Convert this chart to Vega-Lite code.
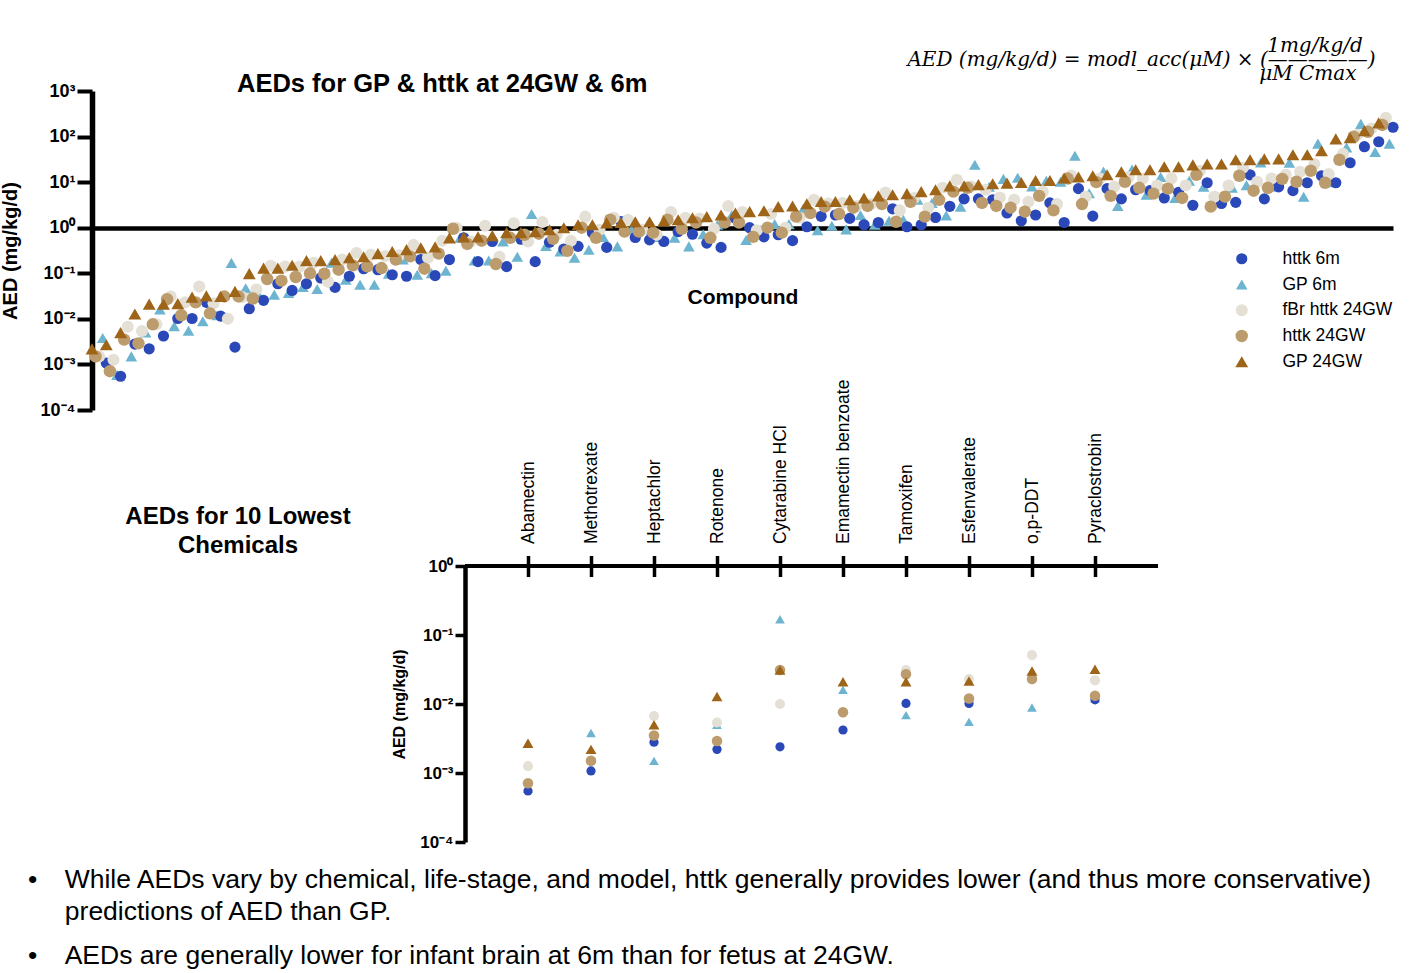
{
  "$schema": "https://vega.github.io/schema/vega-lite/v6.json",
  "autosize": {"type": "none"},
  "padding": {"left": 92, "top": 91, "right": 1332, "bottom": 882},
  "background": "white",
  "config": {
    "font": "Liberation Sans",
    "view": {"stroke": null},
    "axis": {"domainColor": "black", "tickColor": "black", "labelColor": "black", "titleColor": "black", "grid": false},
    "title": {"color": "black", "subtitleColor": "black"}
  },
  "datasets": {
    "aed": [
      {"c":0,"name":"Methotrexate","httk 6m":0.00107,"GP 6m":0.0038,"fBr httk 24GW":0.0015,"httk 24GW":0.0015,"GP 24GW":0.0022},
      {"c":1,"name":"Abamectin","httk 6m":0.00055,"GP 6m":0.00059,"fBr httk 24GW":0.00126,"httk 24GW":0.00071,"GP 24GW":0.0027},
      {"c":2,"name":"Heptachlor","httk 6m":0.0028,"GP 6m":0.0015,"fBr httk 24GW":0.0067,"httk 24GW":0.0035,"GP 24GW":0.005},
      {"c":3,"name":"Rotenone","httk 6m":0.0022,"GP 6m":0.005,"fBr httk 24GW":0.0054,"httk 24GW":0.0029,"GP 24GW":0.0128},
      {"c":4,"name":"Emamectin benzoate","httk 6m":0.0042,"GP 6m":0.016,"fBr httk 24GW":0.0076,"httk 24GW":0.0076,"GP 24GW":0.021},
      {"c":5,"name":"Tamoxifen","httk 6m":0.0102,"GP 6m":0.0069,"fBr httk 24GW":0.031,"httk 24GW":0.027,"GP 24GW":0.021},
      {"c":6,"name":"Esfenvalerate","httk 6m":0.0102,"GP 6m":0.0055,"fBr httk 24GW":0.023,"httk 24GW":0.012,"GP 24GW":0.0216},
      {"c":7,"name":"o,p-DDT","httk 6m":0.023,"GP 6m":0.0089,"fBr httk 24GW":0.051,"httk 24GW":0.023,"GP 24GW":0.03},
      {"c":8,"name":"Pyraclostrobin","httk 6m":0.0115,"GP 6m":0.012,"fBr httk 24GW":0.022,"httk 24GW":0.0132,"GP 24GW":0.032},
      {"c":9,"name":"Cytarabine HCl","httk 6m":0.0024,"GP 6m":0.169,"fBr httk 24GW":0.01,"httk 24GW":0.031,"GP 24GW":0.031},
      {"c":10,"httk 6m":0.0167,"GP 6m":0.047,"fBr httk 24GW":0.03,"httk 24GW":0.031,"GP 24GW":0.04},
      {"c":11,"httk 6m":0.0255,"GP 6m":0.03,"fBr httk 24GW":0.044,"httk 24GW":0.028,"GP 24GW":0.098},
      {"c":12,"httk 6m":0.059,"GP 6m":0.034,"fBr httk 24GW":0.147,"httk 24GW":0.075,"GP 24GW":0.13},
      {"c":13,"httk 6m":0.042,"GP 6m":0.037,"fBr httk 24GW":0.14,"httk 24GW":0.069,"GP 24GW":0.13},
      {"c":14,"httk 6m":0.059,"GP 6m":0.05,"fBr httk 24GW":0.14,"httk 24GW":0.083,"GP 24GW":0.15},
      {"c":15,"httk 6m":0.079,"GP 6m":0.045,"fBr httk 24GW":0.17,"httk 24GW":0.1,"GP 24GW":0.19},
      {"c":16,"httk 6m":0.049,"GP 6m":0.17,"fBr httk 24GW":0.065,"httk 24GW":0.098,"GP 24GW":0.19},
      {"c":17,"httk 6m":0.086,"GP 6m":0.072,"fBr httk 24GW":0.2,"httk 24GW":0.12,"GP 24GW":0.2},
      {"c":18,"httk 6m":0.126,"GP 6m":0.056,"fBr httk 24GW":0.28,"httk 24GW":0.149,"GP 24GW":0.22},
      {"c":19,"httk 6m":0.12,"GP 6m":0.056,"fBr httk 24GW":0.256,"httk 24GW":0.142,"GP 24GW":0.23},
      {"c":20,"httk 6m":0.093,"GP 6m":0.098,"fBr httk 24GW":0.24,"httk 24GW":0.13,"GP 24GW":0.27},
      {"c":21,"httk 6m":0.086,"GP 6m":0.2,"fBr httk 24GW":0.25,"httk 24GW":0.2,"GP 24GW":0.3},
      {"c":22,"httk 6m":0.2,"GP 6m":0.093,"fBr httk 24GW":0.42,"httk 24GW":0.235,"GP 24GW":0.33},
      {"c":23,"httk 6m":0.089,"GP 6m":0.1,"fBr httk 24GW":0.22,"httk 24GW":0.126,"GP 24GW":0.36},
      {"c":24,"httk 6m":0.2,"GP 6m":0.114,"fBr httk 24GW":0.52,"httk 24GW":0.27,"GP 24GW":0.38},
      {"c":25,"httk 6m":0.6,"GP 6m":0.6,"fBr httk 24GW":1.0,"httk 24GW":0.95,"GP 24GW":0.6},
      {"c":26,"httk 6m":0.18,"GP 6m":0.19,"fBr httk 24GW":0.5,"httk 24GW":0.44,"GP 24GW":0.63},
      {"c":27,"httk 6m":0.5,"GP 6m":0.19,"fBr httk 24GW":1.1,"httk 24GW":0.52,"GP 24GW":0.63},
      {"c":28,"httk 6m":0.14,"GP 6m":0.5,"fBr httk 24GW":0.23,"httk 24GW":0.16,"GP 24GW":0.67},
      {"c":29,"httk 6m":0.56,"GP 6m":0.23,"fBr httk 24GW":1.25,"httk 24GW":0.6,"GP 24GW":0.78},
      {"c":30,"httk 6m":0.18,"GP 6m":2.0,"fBr httk 24GW":0.5,"httk 24GW":0.7,"GP 24GW":0.78},
      {"c":31,"httk 6m":0.48,"GP 6m":0.4,"fBr httk 24GW":1.33,"httk 24GW":0.74,"GP 24GW":0.82},
      {"c":32,"httk 6m":0.34,"GP 6m":0.3,"fBr httk 24GW":0.7,"httk 24GW":0.57,"GP 24GW":0.9},
      {"c":33,"httk 6m":0.39,"GP 6m":0.22,"fBr httk 24GW":0.52,"httk 24GW":0.31,"GP 24GW":1.0},
      {"c":34,"httk 6m":0.77,"GP 6m":0.33,"fBr httk 24GW":1.75,"httk 24GW":1.0,"GP 24GW":1.16},
      {"c":35,"httk 6m":0.37,"GP 6m":0.63,"fBr httk 24GW":0.9,"httk 24GW":0.6,"GP 24GW":1.16},
      {"c":36,"httk 6m":1.37,"GP 6m":0.39,"fBr httk 24GW":1.65,"httk 24GW":1.5,"GP 24GW":1.28},
      {"c":37,"httk 6m":0.61,"GP 6m":0.9,"fBr httk 24GW":1.5,"httk 24GW":0.82,"GP 24GW":1.3},
      {"c":38,"httk 6m":0.54,"GP 6m":0.9,"fBr httk 24GW":0.9,"httk 24GW":0.82,"GP 24GW":1.35},
      {"c":39,"httk 6m":0.5,"GP 6m":0.63,"fBr httk 24GW":0.7,"httk 24GW":0.78,"GP 24GW":1.35},
      {"c":40,"httk 6m":0.82,"GP 6m":0.6,"fBr httk 24GW":2.2,"httk 24GW":1.5,"GP 24GW":1.4},
      {"c":41,"httk 6m":0.72,"GP 6m":0.39,"fBr httk 24GW":1.65,"httk 24GW":0.95,"GP 24GW":1.5},
      {"c":42,"httk 6m":0.46,"GP 6m":0.72,"fBr httk 24GW":1.6,"httk 24GW":1.3,"GP 24GW":1.65},
      {"c":43,"httk 6m":0.37,"GP 6m":1.16,"fBr httk 24GW":0.95,"httk 24GW":0.6,"GP 24GW":1.75},
      {"c":44,"httk 6m":1.6,"GP 6m":1.9,"fBr httk 24GW":3.0,"httk 24GW":1.3,"GP 24GW":1.9},
      {"c":45,"httk 6m":1.0,"GP 6m":0.54,"fBr httk 24GW":2.2,"httk 24GW":1.3,"GP 24GW":2.1},
      {"c":46,"httk 6m":0.63,"GP 6m":0.9,"fBr httk 24GW":0.88,"httk 24GW":0.63,"GP 24GW":2.25},
      {"c":47,"httk 6m":0.7,"GP 6m":1.2,"fBr httk 24GW":2.0,"httk 24GW":1.0,"GP 24GW":2.35},
      {"c":48,"httk 6m":0.52,"GP 6m":1.2,"fBr httk 24GW":1.0,"httk 24GW":0.78,"GP 24GW":2.9},
      {"c":49,"httk 6m":1.05,"GP 6m":2.6,"fBr httk 24GW":1.65,"httk 24GW":1.75,"GP 24GW":3.0},
      {"c":50,"httk 6m":1.78,"GP 6m":0.88,"fBr httk 24GW":4.1,"httk 24GW":2.1,"GP 24GW":3.35},
      {"c":51,"httk 6m":1.9,"GP 6m":1.1,"fBr httk 24GW":3.4,"httk 24GW":2.9,"GP 24GW":3.77},
      {"c":52,"httk 6m":1.6,"GP 6m":0.92,"fBr httk 24GW":3.5,"httk 24GW":2.0,"GP 24GW":3.77},
      {"c":53,"httk 6m":1.16,"GP 6m":1.9,"fBr httk 24GW":3.0,"httk 24GW":2.75,"GP 24GW":4.1},
      {"c":54,"httk 6m":1.3,"GP 6m":1.16,"fBr httk 24GW":3.3,"httk 24GW":3.0,"GP 24GW":4.5},
      {"c":55,"httk 6m":2.6,"GP 6m":1.42,"fBr httk 24GW":5.9,"httk 24GW":3.3,"GP 24GW":5.0},
      {"c":56,"httk 6m":1.05,"GP 6m":1.5,"fBr httk 24GW":2.4,"httk 24GW":1.35,"GP 24GW":5.3},
      {"c":57,"httk 6m":1.16,"GP 6m":4.1,"fBr httk 24GW":4.5,"httk 24GW":3.7,"GP 24GW":5.6},
      {"c":58,"httk 6m":1.68,"GP 6m":3.5,"fBr httk 24GW":2.75,"httk 24GW":1.75,"GP 24GW":6.2},
      {"c":59,"httk 6m":2.95,"GP 6m":1.85,"fBr httk 24GW":7.5,"httk 24GW":4.1,"GP 24GW":6.8},
      {"c":60,"httk 6m":4.3,"GP 6m":2.9,"fBr httk 24GW":11.3,"httk 24GW":6.2,"GP 24GW":8.3},
      {"c":61,"httk 6m":4.3,"GP 6m":24,"fBr httk 24GW":8,"httk 24GW":7.5,"GP 24GW":8.3},
      {"c":62,"httk 6m":4.1,"GP 6m":7.9,"fBr httk 24GW":6.8,"httk 24GW":3.5,"GP 24GW":8.8},
      {"c":63,"httk 6m":2.1,"GP 6m":11.8,"fBr httk 24GW":4.6,"httk 24GW":3.0,"GP 24GW":9.2},
      {"c":64,"httk 6m":1.42,"GP 6m":12.5,"fBr httk 24GW":4.1,"httk 24GW":2.75,"GP 24GW":9.5},
      {"c":65,"httk 6m":1.9,"GP 6m":8,"fBr httk 24GW":3.7,"httk 24GW":2.25,"GP 24GW":9.8},
      {"c":66,"httk 6m":3.5,"GP 6m":10.7,"fBr httk 24GW":6.2,"httk 24GW":5.0,"GP 24GW":10.9},
      {"c":67,"httk 6m":1.3,"GP 6m":10.2,"fBr httk 24GW":3.3,"httk 24GW":2.4,"GP 24GW":10.9},
      {"c":68,"httk 6m":7.2,"GP 6m":38,"fBr httk 24GW":14,"httk 24GW":12,"GP 24GW":12.3},
      {"c":69,"httk 6m":1.8,"GP 6m":5.7,"fBr httk 24GW":4.8,"httk 24GW":3.3,"GP 24GW":13},
      {"c":70,"httk 6m":7.2,"GP 6m":17,"fBr httk 24GW":12,"httk 24GW":10,"GP 24GW":13.8},
      {"c":71,"httk 6m":4.3,"GP 6m":3.0,"fBr httk 24GW":7.9,"httk 24GW":5.0,"GP 24GW":14.5},
      {"c":72,"httk 6m":6.8,"GP 6m":19,"fBr httk 24GW":13,"httk 24GW":10.2,"GP 24GW":16.9},
      {"c":73,"httk 6m":6.5,"GP 6m":5.3,"fBr httk 24GW":12,"httk 24GW":7.5,"GP 24GW":18.7},
      {"c":74,"httk 6m":4.5,"GP 6m":13,"fBr httk 24GW":8.4,"httk 24GW":5.6,"GP 24GW":18.7},
      {"c":75,"httk 6m":6.0,"GP 6m":4.5,"fBr httk 24GW":12,"httk 24GW":7.2,"GP 24GW":21.7},
      {"c":76,"httk 6m":3.1,"GP 6m":10.7,"fBr httk 24GW":8.4,"httk 24GW":4.5,"GP 24GW":21.7},
      {"c":77,"httk 6m":9.7,"GP 6m":7.9,"fBr httk 24GW":17.8,"httk 24GW":14.5,"GP 24GW":24},
      {"c":78,"httk 6m":3.4,"GP 6m":4.8,"fBr httk 24GW":4.8,"httk 24GW":2.9,"GP 24GW":25},
      {"c":79,"httk 6m":3.6,"GP 6m":7.5,"fBr httk 24GW":8.4,"httk 24GW":4.8,"GP 24GW":25},
      {"c":80,"httk 6m":14.5,"GP 6m":8.6,"fBr httk 24GW":20.7,"httk 24GW":13.8,"GP 24GW":31},
      {"c":81,"httk 6m":4.3,"GP 6m":27,"fBr httk 24GW":10.2,"httk 24GW":6.5,"GP 24GW":31},
      {"c":82,"httk 6m":7.9,"GP 6m":7.9,"fBr httk 24GW":12,"httk 24GW":7.5,"GP 24GW":32.5},
      {"c":83,"httk 6m":6.5,"GP 6m":26.6,"fBr httk 24GW":14.5,"httk 24GW":11.8,"GP 24GW":32.5},
      {"c":84,"httk 6m":9.7,"GP 6m":4.8,"fBr httk 24GW":16.9,"httk 24GW":10.2,"GP 24GW":40},
      {"c":85,"httk 6m":13.8,"GP 6m":70,"fBr httk 24GW":25,"httk 24GW":17.8,"GP 24GW":40},
      {"c":86,"httk 6m":9.7,"GP 6m":10,"fBr httk 24GW":15,"httk 24GW":9.7,"GP 24GW":49},
      {"c":87,"httk 6m":26.6,"GP 6m":58,"fBr httk 24GW":42,"httk 24GW":31,"GP 24GW":89},
      {"c":88,"httk 6m":60,"GP 6m":190,"fBr httk 24GW":110,"httk 24GW":99,"GP 24GW":94},
      {"c":89,"httk 6m":77,"GP 6m":46,"fBr httk 24GW":150,"httk 24GW":127,"GP 24GW":134},
      {"c":90,"httk 6m":160,"GP 6m":70,"fBr httk 24GW":260,"httk 24GW":180,"GP 24GW":200}
    ]
  },
  "title": {
    "text": ["1mg/kg/d\u00a0\u00a0\u200b", "AED (mg/kg/d) = modl_acc(μM) × (—————)", "μM Cmax\u00a0\u00a0\u00a0\u200b"],
    "anchor": "end",
    "frame": "bounds",
    "align": "right",
    "font": "DejaVu Serif",
    "fontStyle": "italic",
    "fontWeight": "normal",
    "fontSize": 20,
    "lineHeight": 14,
    "offset": -12.5,
    "dx": -23
  },
  "bounds": "flush",
  "spacing": 156,
  "resolve": {
    "scale": {"color": "independent", "shape": "independent", "size": "independent"},
    "legend": {"color": "independent", "shape": "independent", "size": "independent"}
  },
  "vconcat": [
    {
      "width": 1301,
      "height": 319,
      "data": {"name": "aed"},
      "transform": [{"fold": ["GP 6m", "httk 6m", "fBr httk 24GW", "httk 24GW", "GP 24GW"], "as": ["series", "aed"]}],
      "title": {"text": "AEDs for GP & httk at 24GW & 6m", "anchor": "start", "frame": "group", "dx": 145, "offset": -15, "fontSize": 25.5, "fontWeight": "bold"},
      "mark": {"type": "point", "filled": true, "opacity": 1, "strokeWidth": 0},
      "encoding": {
        "x": {
          "field": "c", "type": "ordinal",
          "scale": {"type": "band", "paddingInner": 0, "paddingOuter": 0},
          "axis": {"offset": -182, "ticks": false, "labels": false, "domainWidth": 4.5, "title": "Compound", "titleFontSize": 21, "titleFontWeight": "bold", "titlePadding": 58}
        },
        "xOffset": {"field": "series", "type": "nominal", "scale": {"domain": ["GP 24GW", "httk 24GW", "fBr httk 24GW", "GP 6m", "httk 6m"], "paddingInner": 0, "paddingOuter": 0}},
        "y": {
          "field": "aed", "type": "quantitative",
          "scale": {"type": "log", "domain": [0.0001, 1000], "nice": false},
          "axis": {
            "values": [0.0001, 0.001, 0.01, 0.1, 1, 10, 100, 1000],
            "labelExpr": "'10' + ['⁻⁴','⁻³','⁻²','⁻¹','⁰','¹','²','³'][round(log(datum.value)/LN10)+4]",
            "domainWidth": 5.5, "tickSize": 15, "tickWidth": 4,
            "labelFontSize": 18, "labelFontWeight": "bold", "labelPadding": 2, "labelOverlap": false,
            "title": "AED (mg/kg/d)", "titleFontSize": 20, "titleFontWeight": "bold", "titleX": -72
          }
        },
        "color": {
          "field": "series", "type": "nominal",
          "scale": {"domain": ["httk 6m", "GP 6m", "fBr httk 24GW", "httk 24GW", "GP 24GW"], "range": ["#2B48B9", "#6DB4D1", "#E4E0D6", "#BC9C6C", "#9E6418"]},
          "legend": {"title": null, "orient": "none", "legendX": 1141, "legendY": 159, "labelFontSize": 17.5, "labelOffset": 32, "rowPadding": 6.75, "labelColor": "black", "symbolStrokeWidth": 0}
        },
        "shape": {
          "field": "series", "type": "nominal",
          "scale": {"domain": ["httk 6m", "GP 6m", "fBr httk 24GW", "httk 24GW", "GP 24GW"], "range": ["circle", "triangle-up", "circle", "circle", "triangle-up"]}
        },
        "size": {
          "field": "series", "type": "nominal",
          "scale": {"domain": ["httk 6m", "GP 6m", "fBr httk 24GW", "httk 24GW", "GP 24GW"], "range": [125, 165, 125, 125, 165]}
        }
      }
    },
    {
      "bounds": "flush",
      "spacing": 81,
      "hconcat": [
        {
          "width": 292,
          "height": 276,
          "data": {"values": []},
          "mark": "point",
          "title": {"text": ["AEDs for 10 Lowest", "Chemicals"], "anchor": "middle", "frame": "group", "fontSize": 24, "fontWeight": "bold", "lineHeight": 29, "offset": 8}
        },
        {
          "width": 693,
          "height": 276,
          "title": {
            "text": ["•\u00a0\u00a0\u00a0\u2009While AEDs vary by chemical, life-stage, and model, httk generally provides lower (and thus more conservative)", "\u200b\u00a0\u00a0\u00a0\u00a0\u00a0predictions of AED than GP."],
            "subtitle": "•\u00a0\u00a0\u00a0\u2009AEDs are generally lower for infant brain at 6m than for fetus at 24GW.",
            "orient": "bottom", "anchor": "start", "frame": "group", "align": "left",
            "dx": -437, "offset": 17,
            "fontSize": 26.5, "fontWeight": "normal", "lineHeight": 32,
            "subtitleFontSize": 26.5, "subtitleFont": "Liberation Sans", "subtitlePadding": 17
          },
          "layer": [
            {
              "data": {"values": [{}]},
              "mark": {"type": "rule", "strokeWidth": 4, "color": "black"},
              "encoding": {"y": {"datum": 1, "type": "quantitative"}}
            },
            {
              "data": {"name": "aed"},
              "transform": [
                {"filter": "isValid(datum.name)"},
                {"fold": ["GP 6m", "httk 6m", "fBr httk 24GW", "httk 24GW", "GP 24GW"], "as": ["series", "aed"]}
              ],
              "mark": {"type": "point", "filled": true, "opacity": 1, "strokeWidth": 0},
              "encoding": {
                "x": {
                  "field": "name", "type": "nominal",
                  "sort": ["Abamectin", "Methotrexate", "Heptachlor", "Rotenone", "Cytarabine HCl", "Emamectin benzoate", "Tamoxifen", "Esfenvalerate", "o,p-DDT", "Pyraclostrobin"],
                  "scale": {"type": "point", "padding": 1},
                  "axis": {"orient": "top", "title": null, "domain": false, "offset": -10.5, "tickSize": 21, "tickWidth": 3.5, "labelAngle": -90, "labelFontSize": 17.5, "labelPadding": 12, "labelColor": "black"}
                },
                "y": {
                  "field": "aed", "type": "quantitative",
                  "scale": {"type": "log", "domain": [0.0001, 1], "nice": false},
                  "axis": {
                    "values": [0.0001, 0.001, 0.01, 0.1, 1],
                    "labelExpr": "'10' + ['⁻⁴','⁻³','⁻²','⁻¹','⁰','¹','²','³'][round(log(datum.value)/LN10)+4]",
                    "domainWidth": 4.5, "tickSize": 10, "tickWidth": 3.5,
                    "labelFontSize": 17, "labelFontWeight": "bold", "labelPadding": 2, "labelOverlap": false,
                    "title": "AED (mg/kg/d)", "titleFontSize": 16, "titleFontWeight": "bold", "titleX": -58
                  }
                },
                "color": {
                  "field": "series", "type": "nominal",
                  "scale": {"domain": ["httk 6m", "GP 6m", "fBr httk 24GW", "httk 24GW", "GP 24GW"], "range": ["#2B48B9", "#6DB4D1", "#E4E0D6", "#BC9C6C", "#9E6418"]},
                  "legend": null
                },
                "shape": {
                  "field": "series", "type": "nominal",
                  "scale": {"domain": ["httk 6m", "GP 6m", "fBr httk 24GW", "httk 24GW", "GP 24GW"], "range": ["circle", "triangle-up", "circle", "circle", "triangle-up"]},
                  "legend": null
                },
                "size": {
                  "field": "series", "type": "nominal",
                  "scale": {"domain": ["httk 6m", "GP 6m", "fBr httk 24GW", "httk 24GW", "GP 24GW"], "range": [85, 120, 85, 85, 120]},
                  "legend": null
                }
              }
            }
          ]
        }
      ]
    }
  ]
}
